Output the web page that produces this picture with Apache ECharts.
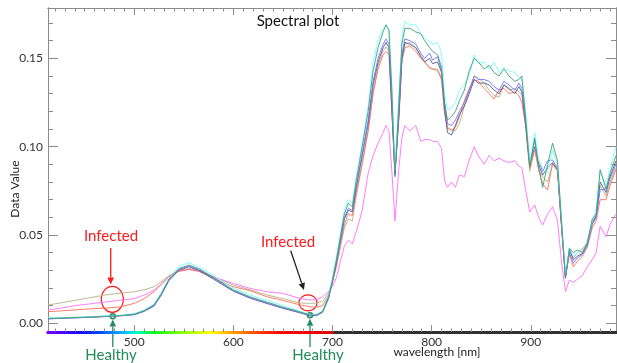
<!DOCTYPE html>
<html>
<head>
<meta charset="utf-8">
<script src="https://cdn.jsdelivr.net/npm/echarts@6/dist/echarts.min.js"></script>
<style>html,body{margin:0;padding:0;background:#fff}#c{width:617px;height:363px}</style>
</head>
<body>
<div id="c"></div>
<script>
const wavelength = [413,425,440,455,470,485,500,510,520,527,535,545,555,565,580,600,617,634,650,667,677,684,690,696,700,704,708,712,716,720,724,730,736,741,746,751,754,757,760,763,767,770,773,778,784,789,793,798,801,806,810,813,816,820,824,828,833,838,843,847,853,858,863,868,873,878,884,888,891,895,899,904,908,912,917,922,927,931,935,939,943,947,952,957,962,966,970,976,980,986];

const cyanVals = [0.0030,0.0032,0.0035,0.0038,0.0042,0.0045,0.0055,0.0075,0.0110,0.0170,0.0255,0.0320,0.0345,0.0320,0.0270,0.0200,0.0160,0.0130,0.0100,0.0070,0.0050,0.0050,0.0070,0.0160,0.0260,0.0380,0.0510,0.0640,0.0700,0.0680,0.0830,0.1020,0.1230,0.1480,0.1600,0.1670,0.1690,0.1650,0.1350,0.0870,0.1300,0.1620,0.1710,0.1690,0.1690,0.1640,0.1620,0.1590,0.1580,0.1590,0.1530,0.1300,0.1210,0.1220,0.1250,0.1320,0.1350,0.1400,0.1520,0.1470,0.1480,0.1440,0.1480,0.1420,0.1450,0.1430,0.1420,0.1390,0.1380,0.1200,0.0910,0.1080,0.0920,0.0880,0.0850,0.0980,0.0900,0.0600,0.0280,0.0430,0.0380,0.0400,0.0410,0.0460,0.0580,0.0650,0.0860,0.0780,0.0880,0.1000];

const greenVals = [0.0028,0.0030,0.0033,0.0036,0.0040,0.0044,0.0052,0.0072,0.0105,0.0165,0.0250,0.0310,0.0330,0.0310,0.0260,0.0190,0.0150,0.0120,0.0092,0.0065,0.0048,0.0048,0.0068,0.0150,0.0245,0.0360,0.0490,0.0620,0.0680,0.0660,0.0810,0.1000,0.1200,0.1430,0.1560,0.1650,0.1690,0.1660,0.1300,0.0830,0.1250,0.1580,0.1670,0.1670,0.1650,0.1640,0.1600,0.1560,0.1540,0.1520,0.1450,0.1250,0.1150,0.1170,0.1200,0.1260,0.1320,0.1430,0.1500,0.1480,0.1440,0.1460,0.1420,0.1400,0.1440,0.1400,0.1370,0.1380,0.1400,0.1150,0.0886,0.1040,0.0880,0.0770,0.0900,0.1020,0.0920,0.0580,0.0260,0.0425,0.0400,0.0415,0.0400,0.0455,0.0590,0.0620,0.0870,0.0760,0.0850,0.0950];

const blueVals = [0.0025,0.0028,0.0032,0.0035,0.0039,0.0043,0.0050,0.0070,0.0100,0.0160,0.0245,0.0305,0.0325,0.0305,0.0255,0.0185,0.0145,0.0115,0.0088,0.0062,0.0045,0.0046,0.0065,0.0145,0.0240,0.0350,0.0475,0.0600,0.0650,0.0640,0.0780,0.0960,0.1150,0.1370,0.1500,0.1580,0.1610,0.1580,0.1250,0.0850,0.1200,0.1520,0.1610,0.1600,0.1580,0.1530,0.1500,0.1530,0.1490,0.1510,0.1430,0.1250,0.1130,0.1120,0.1150,0.1200,0.1250,0.1320,0.1400,0.1380,0.1380,0.1370,0.1340,0.1320,0.1370,0.1350,0.1320,0.1360,0.1330,0.1150,0.0900,0.1000,0.0920,0.0860,0.0920,0.0925,0.0880,0.0560,0.0265,0.0400,0.0340,0.0370,0.0390,0.0440,0.0560,0.0600,0.0755,0.0760,0.0820,0.0900];

const darkVals = [0.0026,0.0029,0.0031,0.0034,0.0038,0.0042,0.0049,0.0068,0.0098,0.0158,0.0242,0.0300,0.0320,0.0300,0.0250,0.0182,0.0142,0.0112,0.0085,0.0060,0.0043,0.0044,0.0062,0.0140,0.0235,0.0345,0.0470,0.0590,0.0640,0.0630,0.0770,0.0950,0.1130,0.1350,0.1480,0.1560,0.1590,0.1560,0.1200,0.0840,0.1180,0.1500,0.1590,0.1580,0.1560,0.1510,0.1480,0.1500,0.1470,0.1480,0.1420,0.1220,0.1080,0.1066,0.1120,0.1180,0.1230,0.1300,0.1380,0.1360,0.1360,0.1350,0.1320,0.1300,0.1350,0.1330,0.1300,0.1340,0.1310,0.1120,0.0890,0.1050,0.0900,0.0840,0.0880,0.0910,0.0870,0.0560,0.0255,0.0420,0.0360,0.0380,0.0395,0.0450,0.0570,0.0610,0.0800,0.0740,0.0830,0.0920];

const redVals = [0.0066,0.0070,0.0076,0.0082,0.0086,0.0092,0.0113,0.0140,0.0179,0.0220,0.0265,0.0295,0.0305,0.0295,0.0255,0.0207,0.0185,0.0150,0.0130,0.0105,0.0094,0.0092,0.0100,0.0160,0.0235,0.0330,0.0450,0.0560,0.0620,0.0610,0.0740,0.0910,0.1090,0.1300,0.1440,0.1520,0.1540,0.1520,0.1180,0.0860,0.1160,0.1480,0.1560,0.1570,0.1540,0.1500,0.1480,0.1450,0.1440,0.1430,0.1380,0.1200,0.1110,0.1090,0.1110,0.1170,0.1260,0.1330,0.1380,0.1370,0.1330,0.1300,0.1270,0.1320,0.1330,0.1300,0.1310,0.1290,0.1250,0.1120,0.0880,0.0980,0.0870,0.0790,0.0755,0.0906,0.0870,0.0550,0.0265,0.0390,0.0320,0.0350,0.0380,0.0430,0.0540,0.0580,0.0700,0.0700,0.0780,0.0870];

const oliveVals = [0.0104,0.0115,0.0130,0.0145,0.0160,0.0170,0.0179,0.0190,0.0207,0.0235,0.0270,0.0300,0.0310,0.0300,0.0265,0.0217,0.0190,0.0160,0.0140,0.0115,0.0113,0.0115,0.0125,0.0170,0.0240,0.0320,0.0430,0.0540,0.0590,0.0580,0.0720,0.0900,0.1090,0.1310,0.1460,0.1540,0.1565,0.1540,0.1200,0.0850,0.1170,0.1500,0.1580,0.1590,0.1560,0.1520,0.1480,0.1440,0.1440,0.1440,0.1390,0.1190,0.1100,0.1100,0.1090,0.1130,0.1230,0.1320,0.1400,0.1390,0.1360,0.1320,0.1290,0.1280,0.1350,0.1320,0.1330,0.1310,0.1300,0.1100,0.0860,0.1000,0.0870,0.0830,0.0800,0.0900,0.0860,0.0560,0.0260,0.0410,0.0370,0.0400,0.0420,0.0460,0.0560,0.0600,0.0780,0.0720,0.0800,0.0880];

const magentaVals = [0.0075,0.0085,0.0100,0.0110,0.0120,0.0130,0.0140,0.0160,0.0189,0.0220,0.0265,0.0295,0.0305,0.0295,0.0262,0.0226,0.0198,0.0179,0.0170,0.0141,0.0132,0.0135,0.0150,0.0180,0.0210,0.0260,0.0350,0.0440,0.0470,0.0450,0.0520,0.0640,0.0850,0.0950,0.1020,0.1080,0.1120,0.1090,0.0850,0.0580,0.0880,0.1050,0.1120,0.1090,0.1120,0.1030,0.1040,0.1040,0.1030,0.1030,0.0990,0.0810,0.0770,0.0800,0.0770,0.0840,0.0830,0.0925,0.1000,0.0950,0.0900,0.0950,0.0920,0.0935,0.0920,0.0910,0.0920,0.0890,0.0880,0.0750,0.0630,0.0670,0.0600,0.0556,0.0620,0.0660,0.0580,0.0350,0.0180,0.0245,0.0230,0.0250,0.0270,0.0320,0.0360,0.0400,0.0550,0.0490,0.0560,0.0620];

const xMajorTicks = [500,600,700,800,900];
const xMinorTicks = [420,430,440,450,460,470,480,490,510,520,530,540,550,560,570,580,590,610,620,630,640,650,660,670,680,690,710,720,730,740,750,760,770,780,790,810,820,830,840,850,860,870,880,890,910,920,930,940,950,960,970,980];
const yMajorTicks = [0.00,0.05,0.10,0.15];
const yMinorTicks = [0.01,0.02,0.03,0.04,0.06,0.07,0.08,0.09,0.11,0.12,0.13,0.14,0.16,0.17];

const seriesDefs = [
  {name:'olive', vals: oliveVals, color:'#b4b48a'},
  {name:'magenta', vals: magentaVals, color:'#ff70ff'},
  {name:'red', vals: redVals, color:'#ff7058'},
  {name:'dark', vals: darkVals, color:'#565690'},
  {name:'blue', vals: blueVals, color:'#7070ff'},
  {name:'cyan', vals: cyanVals, color:'#78ffff'},
  {name:'green', vals: greenVals, color:'#42a070'}
];

const chart = echarts.init(document.getElementById('c'), null, {renderer:'canvas'});
const FONT = 'Lato, "Open Sans", sans-serif';
const XMIN = 413, XMAX = 986, YMIN = -0.0049, YMAX = 0.1785;
const gray = '#8c8c8c';

function xAxisDef(pos, ticks, len, labels, lineStyle) {
  return {
    type:'value', position: pos, min: XMIN, max: XMAX, gridIndex:0,
    axisLine:{show:true, onZero:false, lineStyle: lineStyle || {color: gray, width:1}},
    axisTick:{show:true, inside:true, length: len, customValues: ticks, lineStyle:{color: gray, width:1}},
    axisLabel: labels ? {show:true, customValues: ticks, color:'#333', fontSize:12, fontFamily: FONT, margin:4} : {show:false},
    splitLine:{show:false}, minorTick:{show:false}
  };
}
function yAxisDef(pos, ticks, len, labels) {
  return {
    type:'value', position: pos, min: YMIN, max: YMAX, gridIndex:0,
    axisLine:{show:true, onZero:false, lineStyle:{color: gray, width:1}},
    axisTick:{show:true, inside:true, length: len, customValues: ticks, lineStyle:{color: gray, width:1}},
    axisLabel: labels ? {show:true, customValues: ticks, color:'#333', fontSize:12, fontFamily: FONT, margin:5,
      formatter: v => v.toFixed(2)} : {show:false},
    splitLine:{show:false}, minorTick:{show:false}
  };
}
const frac = nm => (nm - XMIN) / (XMAX - XMIN);
const rainbow = new echarts.graphic.LinearGradient(0, 0, 1, 0, [
  {offset: 0, color:'#7a00ff'},
  {offset: frac(445), color:'#2000ff'},
  {offset: frac(465), color:'#0040ff'},
  {offset: frac(490), color:'#00b4ff'},
  {offset: frac(505), color:'#00ffc0'},
  {offset: frac(520), color:'#00ff20'},
  {offset: frac(555), color:'#a0ff00'},
  {offset: frac(578), color:'#ffff00'},
  {offset: frac(600), color:'#ffa000'},
  {offset: frac(630), color:'#ff3000'},
  {offset: frac(650), color:'#ff0000'},
  {offset: frac(700), color:'#e00000'},
  {offset: frac(702), color:'#303030'},
  {offset: 1, color:'#303030'}
]);

function arrowHead(tx, ty, fx, fy, len, half, color) {
  const dx = tx - fx, dy = ty - fy, L = Math.hypot(dx, dy);
  const ux = dx / L, uy = dy / L, bx = tx - ux*len, by = ty - uy*len;
  return [
    {type:'line', shape:{x1:fx, y1:fy, x2:bx, y2:by}, style:{stroke:color, lineWidth:1.3}, silent:true},
    {type:'polygon', shape:{points:[[tx,ty],[bx - uy*half, by + ux*half],[bx + uy*half, by - ux*half]]}, style:{fill:color}, silent:true}
  ];
}
const RED = '#ff1a1a', GREEN = '#238c5c';
const txt = (x, y, text, color, size) => ({type:'text', x, y, silent:true,
  style:{text, fill:color, font: size + 'px ' + FONT, align:'center', verticalAlign:'middle'}});

const graphics = [
  txt(298, 21, 'Spectral plot', '#111', 15),
  {type:'text', x:15, y:189, rotation: Math.PI/2, silent:true,
    style:{text:'Data Value', fill:'#222', font:'12px ' + FONT, align:'center', verticalAlign:'middle'}},
  txt(437, 352, 'wavelength [nm]', '#222', 12),
  txt(111, 236.5, 'Infected', RED, 15),
  txt(288, 242.5, 'Infected', RED, 15),
  txt(111, 355, 'Healthy', GREEN, 15),
  txt(318, 355, 'Healthy', GREEN, 15),
  {type:'ellipse', shape:{cx:112.3, cy:299.3, rx:11, ry:13}, style:{stroke:RED, fill:null, lineWidth:1.2}, silent:true},
  {type:'ellipse', shape:{cx:308, cy:302.8, rx:9, ry:8}, style:{stroke:RED, fill:null, lineWidth:1.2}, silent:true},
  {type:'circle', shape:{cx:112.8, cy:316.3, r:2.5}, style:{stroke:GREEN, fill:null, lineWidth:1.5}, silent:true},
  {type:'circle', shape:{cx:310, cy:315.2, r:2.5}, style:{stroke:GREEN, fill:null, lineWidth:1.5}, silent:true}
].concat(
  arrowHead(110.7, 284.5, 110.7, 248, 7, 3.3, RED),
  arrowHead(304, 290, 290.7, 250.7, 7, 3.3, '#222'),
  arrowHead(112.8, 319.5, 112.8, 347, 7, 3.3, GREEN),
  arrowHead(310, 318.8, 310, 347, 7, 3.3, GREEN)
);

const option = {
  animation:false,
  backgroundColor:'#ffffff',
  grid:{left:48, right:1, top:8, bottom:31, containLabel:false},
  xAxis:[
    xAxisDef('bottom', xMajorTicks, 7, true, {color: rainbow, width:3}),
    xAxisDef('top', xMajorTicks, 7, false),
    xAxisDef('bottom', xMinorTicks, 3.5, false, {color: rainbow, width:3}),
    xAxisDef('top', xMinorTicks, 3.5, false)
  ],
  yAxis:[
    yAxisDef('left', yMajorTicks, 10, true),
    yAxisDef('right', yMajorTicks, 10, false),
    yAxisDef('left', yMinorTicks, 5, false),
    yAxisDef('right', yMinorTicks, 5, false)
  ],
  series: seriesDefs.map(s => ({
    type:'line', name:s.name, xAxisIndex:0, yAxisIndex:0,
    data: wavelength.map((w, i) => [w, s.vals[i]]),
    showSymbol:false, symbol:'none', smooth:false,
    lineStyle:{color:s.color, width:1, opacity:0.9}, itemStyle:{color:s.color},
    emphasis:{disabled:true}, silent:true, clip:true
  })),
  graphic: graphics
};
chart.setOption(option);
</script>
</body>
</html>
